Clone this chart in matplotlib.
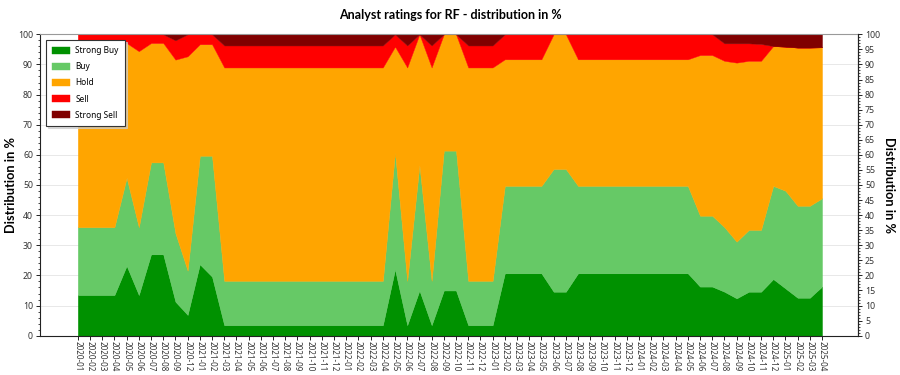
import matplotlib
matplotlib.use("Agg")
import matplotlib.pyplot as plt
from matplotlib.ticker import MultipleLocator
import numpy as np

months = ["2020-01", "2020-02", "2020-03", "2020-04", "2020-05", "2020-06", "2020-07", "2020-08",
          "2020-09", "2020-12",
          "2021-01", "2021-02", "2021-03", "2021-04", "2021-05", "2021-06", "2021-07", "2021-08",
          "2021-09", "2021-10", "2021-11", "2021-12",
          "2022-01", "2022-02", "2022-03", "2022-04", "2022-05", "2022-06", "2022-07", "2022-08",
          "2022-09", "2022-10", "2022-11", "2022-12",
          "2023-01", "2023-02", "2023-03", "2023-04", "2023-05", "2023-06", "2023-07", "2023-08",
          "2023-09", "2023-10", "2023-11", "2023-12",
          "2024-01", "2024-02", "2024-03", "2024-04", "2024-05", "2024-06", "2024-07", "2024-08",
          "2024-09", "2024-10", "2024-11", "2024-12",
          "2025-01", "2025-02", "2025-03", "2025-04"]

strong_buy = [13.5, 13.5, 13.5, 13.5, 23.2, 13.5, 27.0, 27.0, 11.3, 6.9,
              23.7, 19.6, 3.5, 3.5, 3.5, 3.5, 3.5, 3.5, 3.5, 3.5, 3.5, 3.5,
              3.5, 3.5, 3.5, 3.5, 22.0, 3.5, 15.0, 3.5, 15.0, 15.0, 3.5, 3.5,
              3.5, 20.7, 20.7, 20.7, 20.7, 14.6, 14.6, 20.7, 20.7, 20.7, 20.7, 20.7,
              20.7, 20.7, 20.7, 20.7, 20.7, 16.3, 16.3, 14.6, 12.4, 14.6, 14.6, 18.8,
              15.7, 12.6, 12.6, 16.3]

buy = [22.5, 22.5, 22.5, 22.5, 29.2, 22.5, 30.5, 30.5, 22.7, 14.7,
       36.0, 40.1, 14.7, 14.7, 14.7, 14.7, 14.7, 14.7, 14.7, 14.7, 14.7, 14.7,
       14.7, 14.7, 14.7, 14.7, 38.7, 14.7, 41.6, 14.7, 46.4, 46.4, 14.7, 14.7,
       14.7, 29.0, 29.0, 29.0, 29.0, 40.7, 40.7, 29.0, 29.0, 29.0, 29.0, 29.0,
       29.0, 29.0, 29.0, 29.0, 29.0, 23.5, 23.5, 21.4, 18.8, 20.5, 20.5, 30.9,
       32.4, 30.5, 30.5, 29.3]

hold = [61.3, 61.3, 61.3, 61.3, 44.7, 58.4, 39.6, 39.6, 57.6, 71.1,
        37.0, 37.0, 70.8, 70.8, 70.8, 70.8, 70.8, 70.8, 70.8, 70.8, 70.8, 70.8,
        70.8, 70.8, 70.8, 70.8, 35.2, 70.8, 43.4, 70.8, 38.6, 38.6, 70.8, 70.8,
        70.8, 42.0, 42.0, 42.0, 42.0, 44.7, 44.7, 42.0, 42.0, 42.0, 42.0, 42.0,
        42.0, 42.0, 42.0, 42.0, 42.0, 53.3, 53.3, 55.2, 59.4, 56.1, 56.1, 46.4,
        47.8, 52.5, 52.5, 50.1]

sell = [2.7, 2.7, 2.7, 2.7, 2.9, 5.6, 2.9, 2.9, 6.4, 7.3,
        3.3, 3.3, 7.3, 7.3, 7.3, 7.3, 7.3, 7.3, 7.3, 7.3, 7.3, 7.3,
        7.3, 7.3, 7.3, 7.3, 4.1, 7.3, 0.0, 7.3, 0.0, 0.0, 7.3, 7.3,
        7.3, 8.3, 8.3, 8.3, 8.3, 0.0, 0.0, 8.3, 8.3, 8.3, 8.3, 8.3,
        8.3, 8.3, 8.3, 8.3, 8.3, 6.9, 6.9, 5.8, 6.4, 5.8, 5.6, 0.0,
        0.0, 0.0, 0.0, 0.0]

strong_sell = [0.0, 0.0, 0.0, 0.0, 0.0, 0.0, 0.0, 0.0, 2.0, 0.0,
               0.0, 0.0, 3.7, 3.7, 3.7, 3.7, 3.7, 3.7, 3.7, 3.7, 3.7, 3.7,
               3.7, 3.7, 3.7, 3.7, 0.0, 3.7, 0.0, 3.7, 0.0, 0.0, 3.7, 3.7,
               3.7, 0.0, 0.0, 0.0, 0.0, 0.0, 0.0, 0.0, 0.0, 0.0, 0.0, 0.0,
               0.0, 0.0, 0.0, 0.0, 0.0, 0.0, 0.0, 3.0, 3.0, 3.0, 3.2, 3.9,
               4.1, 4.4, 4.4, 4.3]

series_labels = ["Strong Buy", "Buy", "Hold", "Sell", "Strong Sell"]
colors = ["#009100", "#66c966", "#ffa500", "#ff0000", "#800000"]

plt.rcParams['font.family'] = ['Noto Sans', 'DejaVu Sans']
bold_font = ['Lato', 'DejaVu Sans']

fig = plt.figure(figsize=(9, 3.75), dpi=100)
ax = fig.add_axes([40 / 900, 1 - 335.7 / 375, 818 / 900, 301.4 / 375])

x = np.arange(len(months))
polys = ax.stackplot(x, strong_buy, buy, hold, sell, strong_sell,
                     colors=colors, labels=series_labels, linewidth=0.3, zorder=2)
for p, c in zip(polys, colors):
    p.set_edgecolor(c)

ax.set_xlim(-3.1, 63.95)
ax.set_ylim(0, 100)
ax.set_xticks(x)
ax.set_xticklabels(months, rotation=270, fontsize=5.8, color="#333333")
ax.tick_params(axis='x', length=3, width=0.6, pad=1)
ax.yaxis.set_major_locator(MultipleLocator(10))
ax.yaxis.set_minor_locator(MultipleLocator(2))
ax.tick_params(axis='y', which='major', length=3, width=0.6, labelsize=6.3, labelcolor="#333333", pad=2)
ax.tick_params(axis='y', which='minor', length=1.5, width=0.5)
ax.grid(axis='y', which='major', color="#e8e8e8", linewidth=0.7, zorder=0)
ax.set_axisbelow(True)
for s in ax.spines.values():
    s.set_linewidth(0.8)
    s.set_color("#222222")
ax.spines['top'].set_color("#999999")

ax2 = ax.twinx()
ax2.set_ylim(0, 100)
ax2.yaxis.set_major_locator(MultipleLocator(5))
ax2.yaxis.set_minor_locator(MultipleLocator(1))
ax2.tick_params(axis='y', which='major', length=3, width=0.6, labelsize=6.3, labelcolor="#333333", pad=2)
ax2.tick_params(axis='y', which='minor', length=1.5, width=0.5)
for s in ax2.spines.values():
    s.set_visible(False)
ax2.spines['right'].set_visible(True)
ax2.spines['right'].set_linewidth(0.8)
ax2.spines['right'].set_color("#222222")

fig.text(0.5, 1 - 15 / 375, "Analyst ratings for RF - distribution in %",
         ha='center', va='center', fontsize=9, fontweight='bold', family=bold_font)
fig.text(11 / 900, 1 - 185 / 375, "Distribution in %", rotation=90,
         ha='center', va='center', fontsize=9.2, fontweight='bold', family=bold_font)
fig.text(889 / 900, 1 - 185 / 375, "Distribution in %", rotation=270,
         ha='center', va='center', fontsize=9.2, fontweight='bold', family=bold_font)

leg = ax.legend(loc='upper left', bbox_to_anchor=(0.007, 0.981), borderaxespad=0,
                fontsize=6, frameon=True, fancybox=False,
                shadow={'color': '#cccccc', 'alpha': 0.7, 'ox': 1.5, 'oy': -1.5},
                handlelength=2.2, handleheight=0.9, labelspacing=0.85,
                borderpad=0.75, handletextpad=0.6)
leg.get_frame().set_edgecolor("#333333")
leg.get_frame().set_linewidth(0.8)

fig.savefig("out.png", dpi=100)
